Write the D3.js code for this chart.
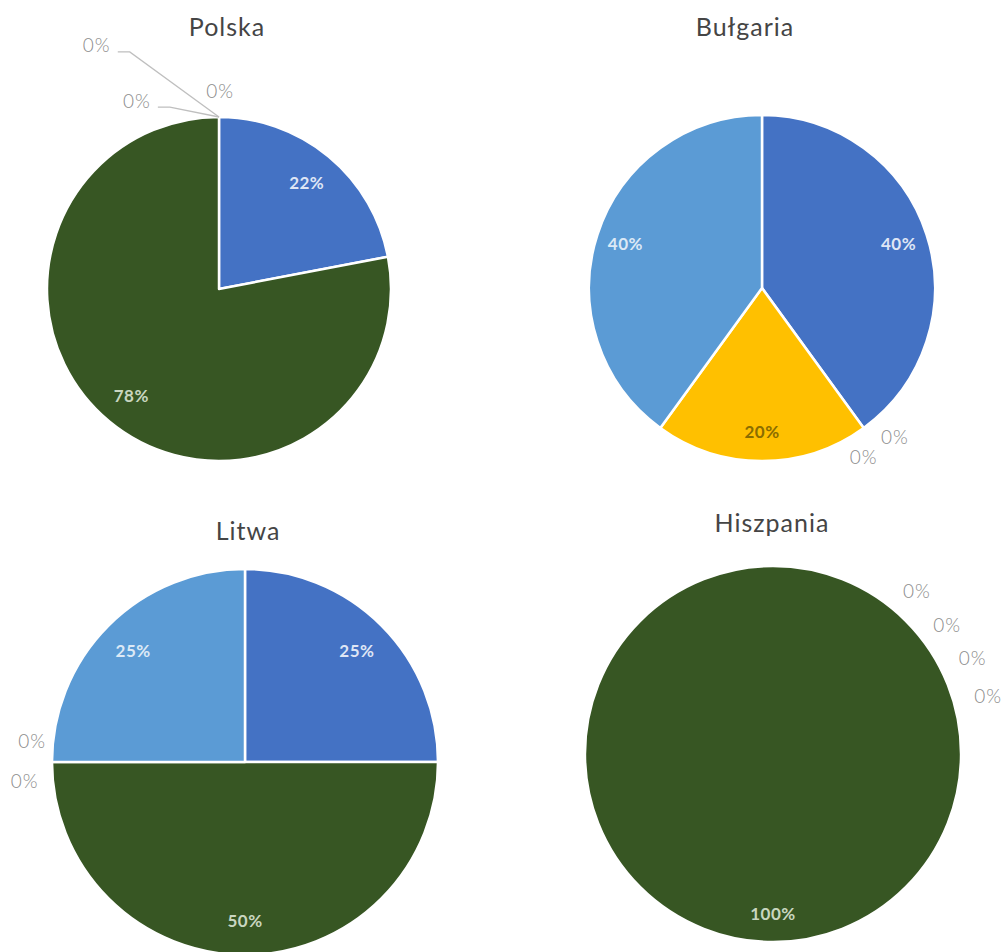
<!DOCTYPE html>
<html>
<head>
<meta charset="utf-8">
<script src="https://cdn.jsdelivr.net/npm/d3@7"></script>
<style>
  body { margin: 0; background: #fff; }
  svg { display: block; font-family: "Lato", "Open Sans", sans-serif; }
</style>
</head>
<body>
<svg id="chart" width="1006" height="952"></svg>
<script>
// data
const countries = ["Polska", "Bułgaria", "Litwa", "Hiszpania"];
const categories = ["Kategoria 1", "Kategoria 2", "Kategoria 3", "Kategoria 4", "Kategoria 5"];
const polska    = [22, 78, 0, 0, 0];
const bulgaria  = [40, 0, 0, 20, 40];
const litwa     = [25, 50, 0, 0, 25];
const hiszpania = [0, 100, 0, 0, 0];
const values = [polska, bulgaria, litwa, hiszpania];

// styles
const colors = ["#4472c4", "#375623", "#a5a5a5", "#ffc000", "#5b9bd5"];
const labelColors = ["#dfe6f5", "#c9d6c0", "#ffffff", "#8a6d00", "#dce9f6"];

// layout of each pie (center, radius, title) and spread of the 0% labels (angle in deg, distance)
const layout = [
  {cx: 219, cy: 289, r: 172, tx: 227, ty: 36, lr: 0.8,
   zero: [{a: 0.3, d: 199}, {a: -23.5, d: 206, leader: true}, {a: -26.6, d: 273, leader: true}]},
  {cx: 762, cy: 288, r: 173, tx: 745, ty: 36, lr: 0.83,
   zero: [{a: 138.1, d: 199}, {a: 148.9, d: 197}]},
  {cx: 245, cy: 762, r: 193, tx: 248, ty: 540, lr: 0.82,
   zero: [{a: 275.9, d: 214}, {a: 265.3, d: 221}]},
  {cx: 773, cy: 754, r: 188, tx: 772, ty: 532, lr: 0.85,
   zero: [{a: 41.3, d: 218}, {a: 53.4, d: 217}, {a: 64.1, d: 222}, {a: 74.7, d: 223}]}
];

const svg = d3.select("#chart");

const pie = d3.pie()
  .sort(null)
  .value(d => d.v);

countries.forEach((name, i) => {
  const L = layout[i];
  const rows = categories.map((c, j) => ({c: c, v: values[i][j], j: j}));
  const arcs = pie(rows);

  const g = svg.append("g")
    .attr("transform", `translate(${L.cx},${L.cy})`);

  svg.append("text")
    .attr("x", L.tx)
    .attr("y", L.ty)
    .attr("text-anchor", "middle")
    .attr("font-size", 25)
    .attr("font-weight", 400)
    .attr("letter-spacing", 1)
    .attr("fill", "#454545")
    .text(name);

  const arc = d3.arc().innerRadius(0).outerRadius(L.r);
  const labelArc = d3.arc().innerRadius(L.r * L.lr).outerRadius(L.r * L.lr);

  g.selectAll("path.slice")
    .data(arcs.filter(d => d.data.v > 0))
    .join("path")
      .attr("class", "slice")
      .attr("d", arc)
      .attr("fill", d => colors[d.data.j])
      .attr("stroke", "#fff")
      .attr("stroke-width", 2.5)
      .attr("stroke-linejoin", "round");

  g.selectAll("text.inside")
    .data(arcs.filter(d => d.data.v > 0))
    .join("text")
      .attr("class", "inside")
      .attr("transform", d => `translate(${labelArc.centroid(d)})`)
      .attr("text-anchor", "middle")
      .attr("dominant-baseline", "central")
      .attr("font-size", 17)
      .attr("font-weight", 700)
      .attr("letter-spacing", 0.5)
      .attr("fill", d => labelColors[d.data.j])
      .text(d => d.data.v + "%");

  // 0% labels, spread around the circle near their slice
  const zeros = arcs.filter(d => d.data.v === 0);
  zeros.forEach((d, k) => {
    const z = L.zero[k];
    const ang = z.a * Math.PI / 180;
    const x = Math.sin(ang) * z.d;
    const y = -Math.cos(ang) * z.d;
    g.append("text")
      .attr("x", x)
      .attr("y", y)
      .attr("text-anchor", "middle")
      .attr("dominant-baseline", "central")
      .attr("font-size", 19)
      .attr("font-weight", 300)
      .attr("letter-spacing", 1)
      .attr("fill", "#8c8c8c")
      .text(d.data.v + "%");
    if (z.leader) {
      const ex = Math.sin(d.startAngle) * L.r;
      const ey = -Math.cos(d.startAngle) * L.r;
      const path = d3.path();
      path.moveTo(x + 21, y + 7);
      path.lineTo(x + 33, y + 7);
      path.lineTo(ex, ey);
      g.append("path")
        .attr("d", path.toString())
        .attr("fill", "none")
        .attr("stroke", "#bfbfbf")
        .attr("stroke-width", 1.3);
    }
  });
});
</script>
</body>
</html>
